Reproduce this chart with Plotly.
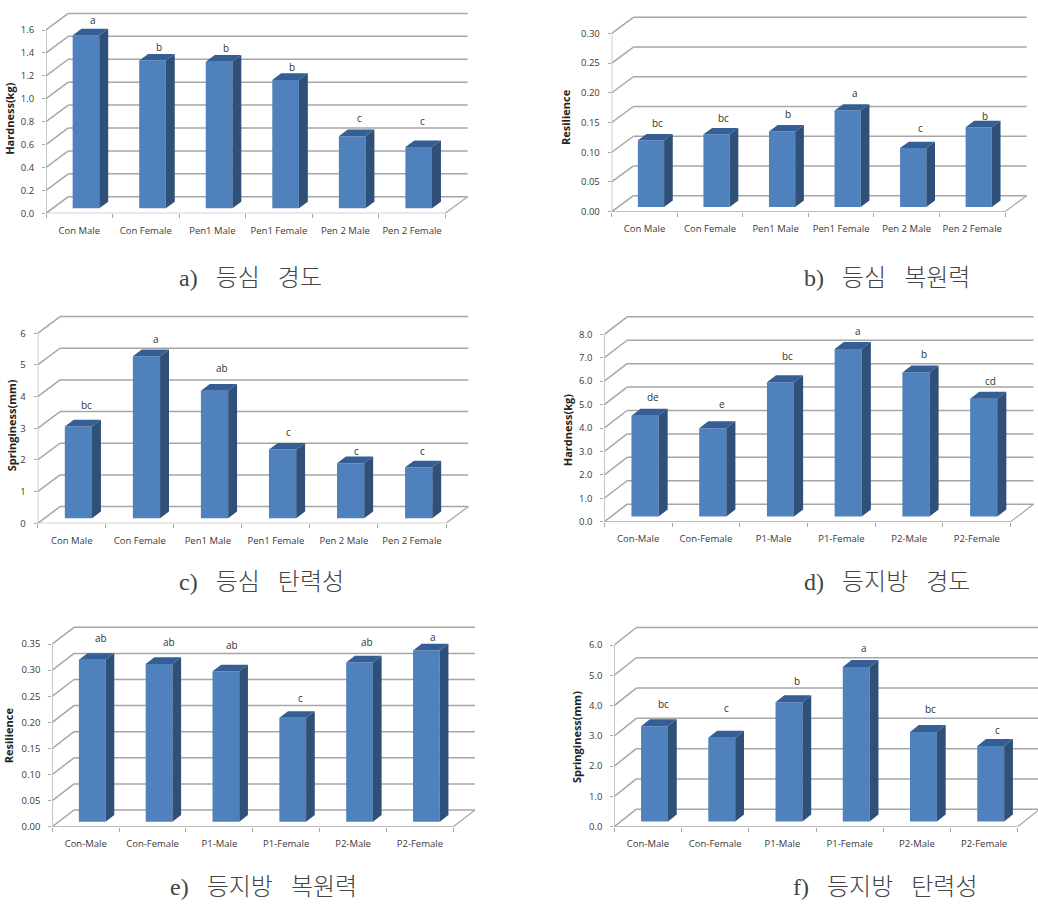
import plotly.graph_objects as go

W, H = 1038, 920

# ---- categories ----
labels_pen = ["Con Male", "Con Female", "Pen1 Male", "Pen1 Female", "Pen 2 Male", "Pen 2 Female"]
labels_p = ["Con-Male", "Con-Female", "P1-Male", "P1-Female", "P2-Male", "P2-Female"]

# ---- values ----
hardness_heart = [1.51, 1.29, 1.28, 1.12, 0.63, 0.535]
resilience_heart = [0.112, 0.122, 0.127, 0.162, 0.099, 0.134]
springiness_heart = [2.90, 5.12, 4.03, 2.17, 1.74, 1.61]
hardness_fat = [4.30, 3.76, 5.73, 7.15, 6.15, 5.02]
resilience_fat = [0.310, 0.302, 0.288, 0.199, 0.305, 0.328]
springiness_fat = [3.14, 2.76, 3.94, 5.10, 2.95, 2.49]

# ---- significance letters ----
letters_a = ["a", "b", "b", "b", "c", "c"]
letters_b = ["bc", "bc", "b", "a", "c", "b"]
letters_c = ["bc", "a", "ab", "c", "c", "c"]
letters_d = ["de", "e", "bc", "a", "b", "cd"]
letters_e = ["ab", "ab", "ab", "c", "ab", "a"]
letters_f = ["bc", "c", "b", "a", "bc", "c"]

# ---- axis ticks ----
ticks_a = [0.0, 0.2, 0.4, 0.6, 0.8, 1.0, 1.2, 1.4, 1.6]
ticks_b = [0.00, 0.05, 0.10, 0.15, 0.20, 0.25, 0.30]
ticks_c = [0, 1, 2, 3, 4, 5, 6]
ticks_d = [0.0, 1.0, 2.0, 3.0, 4.0, 5.0, 6.0, 7.0, 8.0]
ticks_e = [0.00, 0.05, 0.10, 0.15, 0.20, 0.25, 0.30, 0.35]
ticks_f = [0.0, 1.0, 2.0, 3.0, 4.0, 5.0, 6.0]

SP = "\u00a0\u00a0\u00a0"

# layout of each panel, in pixels of the page
panels = [
    dict(cats=labels_pen, vals=hardness_heart, letters=letters_a, ticks=ticks_a, fmt="%.1f",
         title="Hardness(kg)", caption=f"a){SP}등심{SP}경도",
         left=46, right=445.3, y0=213.3, ytop=30, dx=22.3, dy=16.6,
         title_xy=(10, 118.8), cap_xy=(250, 278),
         letter_xy=[(92.7, 20), (158.7, 46.7), (226, 47.7), (291.7, 66.7), (359, 117.7), (422.7, 121)]),
    dict(cats=labels_pen, vals=resilience_heart, letters=letters_b, ticks=ticks_b, fmt="%.2f",
         title="Resilience", caption=f"b){SP}등심{SP}복원력",
         left=611.7, right=1005, y0=211.7, ytop=33.3, dx=21.7, dy=16,
         title_xy=(566, 117), cap_xy=(886.7, 277.7),
         letter_xy=[(657.3, 122.7), (723.3, 118.3), (787.7, 114.3), (855, 92.7), (920, 128.3), (985, 115.7)]),
    dict(cats=labels_pen, vals=springiness_heart, letters=letters_c, ticks=ticks_c, fmt="%d",
         title="Springiness(mm)", caption=f"c){SP}등심{SP}탄력성",
         left=37.7, right=446, y0=523.3, ytop=333.3, dx=22.3, dy=16.7,
         title_xy=(11, 425.3), cap_xy=(261.7, 581.7),
         letter_xy=[(86.3, 405), (155.7, 339), (222.3, 368.3), (288.7, 432), (356.7, 450.7), (422.7, 451)]),
    dict(cats=labels_p, vals=hardness_fat, letters=letters_d, ticks=ticks_d, fmt="%.1f",
         title="Hardness(kg)", caption=f"d){SP}등지방{SP}경도",
         left=604.3, right=1010.7, y0=521.7, ytop=334.3, dx=22.8, dy=17.5,
         title_xy=(567.7, 430.5), cap_xy=(886.7, 581.7),
         letter_xy=[(653.3, 397.3), (721.7, 404), (787.7, 355.7), (857.7, 331), (924, 354), (990.7, 380.7)]),
    dict(cats=labels_p, vals=resilience_fat, letters=letters_e, ticks=ticks_e, fmt="%.2f",
         title="Resilience", caption=f"e){SP}등지방{SP}복원력",
         left=52.3, right=453.3, y0=826.7, ytop=644, dx=21.7, dy=16.7,
         title_xy=(8.3, 735), cap_xy=(263, 886.7),
         letter_xy=[(101, 638.3), (169, 641.7), (232.3, 645), (300, 698.3), (367.3, 642.3), (433.3, 636.7)]),
    dict(cats=labels_p, vals=springiness_fat, letters=letters_f, ticks=ticks_f, fmt="%.1f",
         title="Springiness(mm)", caption=f"f){SP}등지방{SP}탄력성",
         left=614.3, right=1017.7, y0=826.7, ytop=645, dx=22, dy=17.5,
         title_xy=(576, 737), cap_xy=(885, 886.7),
         letter_xy=[(663.7, 704.3), (726.7, 708.3), (796.7, 680.7), (863.7, 648.3), (930.3, 709), (997.7, 730)]),
]

FRONT = "#4F81BD"
SIDE = "#2F5078"
TOP = "#355F94"
GRID = "#A6A6A6"
AXIS = "#A6A6A6"
TEXT = "#3A3A3A"
TICKFONT = dict(family="Open Sans, DejaVu Sans, sans-serif", size=9.5, color=TEXT)
PAD = 2  # px of room above the wall's top line

fig = go.Figure()
shapes, annotations = [], []
axes = {}

for n, p in enumerate(panels, start=1):
    suffix = "" if n == 1 else str(n)
    xname, yname = f"x{suffix}", f"y{suffix}"
    ncat = len(p["cats"])
    vmax = p["ticks"][-1]
    cat_px = (p["right"] - p["left"]) / ncat
    val_px = (p["y0"] - p["ytop"]) / vmax
    ddx = p["dx"] / cat_px          # chart depth, in x units
    ddy = p["dy"] / val_px          # chart depth, in value units
    right_limit = min(p["right"] + p["dx"] + PAD, W)
    top_limit = p["ytop"] - p["dy"] - PAD

    axes["xaxis" + suffix] = dict(
        domain=[p["left"] / W, right_limit / W],
        range=[0, (right_limit - p["left"]) / cat_px],
        anchor=yname, automargin=False, showgrid=False, zeroline=False, showline=False,
        tickmode="array", tickvals=[i + 0.5 for i in range(ncat)], ticktext=p["cats"],
        ticks="", ticklabelstandoff=10, tickfont=TICKFONT, tickangle=0,
        minor=dict(tickmode="array", tickvals=list(range(ncat + 1)), ticks="outside",
                   ticklen=4, tickcolor=AXIS, tickwidth=1, showgrid=False),
    )
    axes["yaxis" + suffix] = dict(
        domain=[1 - p["y0"] / H, 1 - top_limit / H],
        range=[0, (p["y0"] - top_limit) / val_px],
        anchor=xname, automargin=False, showgrid=False, zeroline=False, showline=False,
        tickmode="array", tickvals=p["ticks"], ticktext=[p["fmt"] % t for t in p["ticks"]],
        ticks="outside", ticklen=3, tickcolor=AXIS, tickwidth=1,
        ticklabelstandoff=6, tickfont=TICKFONT,
    )

    # wall and floor lines, placed by the axes
    for t in p["ticks"]:
        for (a, b, c, d) in [(0, t, ddx, t + ddy), (ddx, t + ddy, ncat + ddx, t + ddy)]:
            shapes.append(dict(type="line", layer="below", xref=xname, yref=yname,
                               x0=a, y0=b, x1=c, y1=d, line=dict(color=GRID, width=1.5)))
    shapes.append(dict(type="line", layer="below", xref=xname, yref=yname,
                       x0=ncat, y0=0, x1=ncat + ddx, y1=ddy, line=dict(color=GRID, width=1.2)))

    # front faces
    base = 0.3 * ddy
    shift = 0.3 * ddx
    width = 0.40
    centers = [i + 0.5 + shift for i in range(ncat)]
    fig.add_trace(go.Bar(x=centers, y=p["vals"], base=base, width=width,
                         marker=dict(color=FRONT, line=dict(width=0)),
                         xaxis=xname, yaxis=yname, showlegend=False, hoverinfo="skip"))

    # side and top faces
    zx, zy = 0.4 * ddx, 0.4 * ddy
    sx, sy, tx, ty = [], [], [], []
    for c, v in zip(centers, p["vals"]):
        l, r, b, h = c - width / 2, c + width / 2, base, base + v
        sx += [r, r + zx, r + zx, r, r, None]
        sy += [b, b + zy, h + zy, h, b, None]
        tx += [l, r, r + zx, l + zx, l, None]
        ty += [h, h, h + zy, h + zy, h, None]
    fig.add_trace(go.Scatter(x=sx, y=sy, mode="lines", fill="toself", fillcolor=SIDE,
                             line=dict(width=0, color=SIDE), xaxis=xname, yaxis=yname,
                             showlegend=False, hoverinfo="skip"))
    fig.add_trace(go.Scatter(x=tx, y=ty, mode="lines", fill="toself", fillcolor=TOP,
                             line=dict(width=0, color=TOP), xaxis=xname, yaxis=yname,
                             showlegend=False, hoverinfo="skip"))

    # front axis lines
    fig.add_trace(go.Scatter(x=[0, 0, ncat], y=[vmax, 0, 0], mode="lines", cliponaxis=False,
                             line=dict(color=AXIS, width=1.2), xaxis=xname, yaxis=yname,
                             showlegend=False, hoverinfo="skip"))

    # letters
    for txt, (lx, ly) in zip(p["letters"], p["letter_xy"]):
        annotations.append(dict(text=txt, xref="paper", yref="paper", x=lx / W, y=1 - ly / H,
                                xanchor="center", yanchor="middle", showarrow=False,
                                font=dict(family="Open Sans, DejaVu Sans, sans-serif", size=10, color="#333333")))
    # axis title
    annotations.append(dict(text=f"<b>{p['title']}</b>", xref="paper", yref="paper",
                            x=p["title_xy"][0] / W, y=1 - p["title_xy"][1] / H,
                            xanchor="center", yanchor="middle", textangle=-90, showarrow=False,
                            font=dict(family="Open Sans, DejaVu Sans, sans-serif", size=11, color="#222222")))
    # caption
    annotations.append(dict(text=p["caption"], xref="paper", yref="paper",
                            x=p["cap_xy"][0] / W, y=1 - p["cap_xy"][1] / H,
                            xanchor="center", yanchor="middle", showarrow=False,
                            font=dict(family="Liberation Serif, Noto Sans CJK KR, serif", size=24,
                                      color="#444444", weight=300)))

fig.update_layout(width=W, height=H, margin=dict(l=0, r=0, t=0, b=0, pad=0),
                  paper_bgcolor="white", plot_bgcolor="white", showlegend=False,
                  shapes=shapes, annotations=annotations, **axes)

fig.write_html("out.html", config=dict(displayModeBar=False),
               post_script="document.documentElement.style.margin='0';document.documentElement.style.overflow='hidden';"
                           "document.body.style.margin='0';document.body.style.overflow='hidden';")
